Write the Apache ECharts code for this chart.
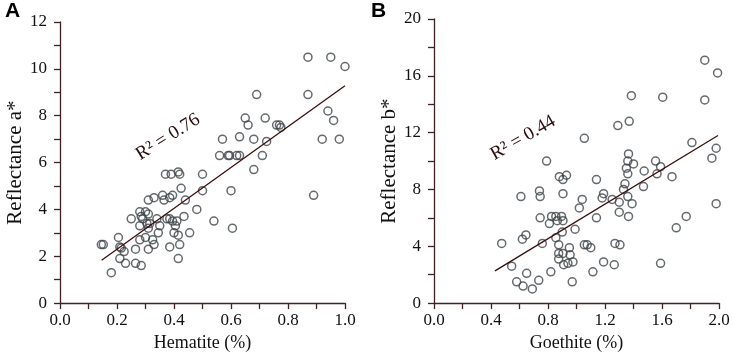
<!DOCTYPE html>
<html>
<head>
<meta charset="utf-8">
<script src="https://cdn.jsdelivr.net/npm/echarts@6/dist/echarts.min.js"></script>
<style>
  html, body { margin: 0; padding: 0; background: #fff; }
  #main { width: 733px; height: 357px; }
</style>
</head>
<body>
<div id="main"></div>
<script>
// panel A: hematite (%) vs reflectance a*
const hematite = [0.87, 0.95, 1.00, 0.69, 0.87, 0.94, 0.96, 0.65, 0.72, 0.66, 0.76, 0.77, 0.775,
  0.57, 0.63, 0.68, 0.725, 0.92, 0.98, 0.56, 0.59, 0.595, 0.62, 0.63, 0.71, 0.68,
  0.37, 0.39, 0.415, 0.42, 0.50, 0.425, 0.50, 0.60, 0.89,
  0.31, 0.33, 0.36, 0.365, 0.385, 0.395, 0.44, 0.28, 0.30, 0.48,
  0.25, 0.285, 0.29, 0.31, 0.34, 0.375, 0.385, 0.395, 0.41, 0.435, 0.54,
  0.28, 0.305, 0.315, 0.31, 0.35, 0.405, 0.605,
  0.205, 0.28, 0.30, 0.325, 0.345, 0.40, 0.415, 0.455,
  0.145, 0.152, 0.21, 0.215, 0.265, 0.31, 0.33, 0.385, 0.42, 0.225,
  0.21, 0.23, 0.265, 0.285, 0.415, 0.18];
const reflA = [10.5, 10.5, 10.1, 8.9, 8.9, 8.2, 7.8, 7.9, 7.9, 7.6, 7.6, 7.6, 7.5,
  7.0, 7.1, 7.0, 6.9, 7.0, 7.0, 6.3, 6.3, 6.3, 6.3, 6.3, 6.3, 5.7,
  5.5, 5.5, 5.6, 5.5, 5.5, 4.9, 4.8, 4.8, 4.6,
  4.4, 4.5, 4.6, 4.4, 4.5, 4.6, 4.4, 3.9, 3.9, 4.0,
  3.6, 3.7, 3.6, 3.8, 3.6, 3.6, 3.6, 3.5, 3.5, 3.7, 3.5,
  3.3, 3.4, 3.4, 3.2, 3.3, 3.3, 3.2,
  2.8, 2.7, 2.8, 2.7, 3.0, 3.0, 2.9, 3.0,
  2.5, 2.5, 2.4, 2.35, 2.3, 2.3, 2.5, 2.4, 2.5, 2.2,
  1.9, 1.7, 1.7, 1.6, 1.9, 1.3];
const fitA = [[0.146, 1.83], [1.0, 9.28]];

// panel B: goethite (%) vs reflectance b*
const goethite = [1.90, 1.99, 1.385, 1.605, 1.90, 1.29, 1.37, 1.055, 1.81, 1.98, 1.95, 1.365,
  0.79, 1.36, 1.40, 1.555, 1.59, 1.35, 1.36, 1.475, 1.565, 0.88, 0.93, 0.905, 1.14, 1.67,
  1.34, 1.47, 0.74, 1.33, 0.61, 0.745, 0.905, 1.19, 1.18, 1.04, 1.25, 1.36, 1.30, 1.39, 1.98,
  1.02, 1.30, 1.365, 1.77, 0.745, 0.825, 0.855, 0.895, 0.81, 0.865, 0.905, 1.14, 0.99, 1.70,
  0.90, 0.645, 0.62, 0.855, 0.475, 0.76, 0.875, 1.055, 1.075, 1.10, 1.27, 1.305, 0.95,
  0.875, 0.905, 0.955, 0.875, 0.91, 0.94, 0.975, 1.19, 1.265, 1.59, 0.545, 0.82, 1.115,
  0.65, 0.58, 0.625, 0.69, 0.735, 0.97];
const reflB = [17.1, 16.2, 14.6, 14.5, 14.3, 12.5, 12.8, 11.6, 11.3, 10.9, 10.2, 10.5,
  10.0, 10.0, 9.8, 10.0, 9.6, 9.5, 9.1, 9.3, 9.1, 8.9, 9.0, 8.7, 8.7, 8.9,
  8.4, 8.2, 7.9, 8.0, 7.5, 7.5, 7.7, 7.7, 7.4, 7.3, 7.3, 7.5, 7.1, 7.0, 7.0,
  6.7, 6.4, 6.1, 6.1, 6.0, 6.1, 6.1, 6.1, 5.6, 5.8, 5.8, 6.0, 5.2, 5.3,
  5.0, 4.8, 4.5, 4.6, 4.2, 4.2, 4.1, 4.1, 4.1, 3.9, 4.2, 4.1, 3.9,
  3.5, 3.5, 3.4, 3.1, 2.7, 2.8, 2.9, 2.9, 2.7, 2.8, 2.6, 2.2, 2.2,
  2.1, 1.5, 1.2, 1.0, 1.6, 1.5];
const fitB = [[0.428, 2.27], [1.993, 11.8]];

const axisColor = '#3f2323';
const serif = '"Liberation Serif", "Times New Roman", serif';

const chart = echarts.init(document.getElementById('main'));

function zip(xs, ys) {
  return xs.map((x, i) => [x, ys[i]]);
}

function xAxisOf(grid, max, step, name) {
  return {
    gridIndex: grid, type: 'value', min: 0, max: max, interval: step,
    name: name, nameLocation: 'middle', nameGap: 30,
    nameTextStyle: { fontFamily: serif, fontSize: 18, color: '#111' },
    axisLine: { onZero: false, lineStyle: { color: axisColor, width: 1.3 } },
    axisTick: { show: true, length: 6, lineStyle: { color: axisColor, width: 1.3 } },
    minorTick: { show: true, splitNumber: 2, length: 6, lineStyle: { color: axisColor, width: 1.3 } },
    axisLabel: { fontFamily: serif, fontSize: 17, color: '#111', margin: 9,
      formatter: v => v.toFixed(1) },
    splitLine: { show: false }
  };
}

function yAxisOf(grid, max, step, name) {
  return {
    gridIndex: grid, type: 'value', min: 0, max: max, interval: step,
    name: name, nameLocation: 'middle', nameGap: 32,
    nameTextStyle: { fontFamily: serif, fontSize: 21, color: '#111' },
    axisLine: { show: true, onZero: false, lineStyle: { color: axisColor, width: 1.3 } },
    axisTick: { show: true, length: 6, lineStyle: { color: axisColor, width: 1.3 } },
    minorTick: { show: true, splitNumber: 2, length: 6, lineStyle: { color: axisColor, width: 1.3 } },
    axisLabel: { fontFamily: serif, fontSize: 17, color: '#111', margin: 13 },
    splitLine: { show: false }
  };
}

const dots = {
  type: 'scatter', symbol: 'circle', symbolSize: 8,
  itemStyle: { color: 'rgba(255,255,255,0)', borderColor: '#3e4549', borderWidth: 1.5 }
};
const fitLine = {
  type: 'line', symbol: 'none', silent: true,
  lineStyle: { color: '#3a0d0d', width: 1.3 }
};

const option = {
  animation: false,
  backgroundColor: '#fff',
  grid: [
    { left: 60, top: 22, width: 285, height: 284 },
    { left: 434, top: 19, width: 285, height: 285 }
  ],
  xAxis: [
    xAxisOf(0, 1, 0.2, 'Hematite (%)'),
    xAxisOf(1, 2, 0.4, 'Goethite (%)')
  ],
  yAxis: [
    yAxisOf(0, 12, 2, 'Reflectance a*'),
    yAxisOf(1, 20, 4, 'Reflectance b*')
  ],
  series: [
    Object.assign({}, dots, { xAxisIndex: 0, yAxisIndex: 0, data: zip(hematite, reflA) }),
    Object.assign({}, fitLine, { xAxisIndex: 0, yAxisIndex: 0, data: fitA }),
    Object.assign({}, dots, { xAxisIndex: 1, yAxisIndex: 1, data: zip(goethite, reflB) }),
    Object.assign({}, fitLine, { xAxisIndex: 1, yAxisIndex: 1, data: fitB })
  ],
  graphic: [
    { type: 'text', left: 5, top: 1,
      style: { text: 'A', font: 'bold 21px "Liberation Sans", Arial, sans-serif', fill: '#000' } },
    { type: 'text', left: 371, top: 1,
      style: { text: 'B', font: 'bold 21px "Liberation Sans", Arial, sans-serif', fill: '#000' } },
    { type: 'text', x: 168, y: 137, rotation: 32 * Math.PI / 180,
      style: { text: 'R² = 0.76', font: '19px ' + serif, fill: '#2a0a0a',
        align: 'center', verticalAlign: 'middle' } },
    { type: 'text', x: 523, y: 138, rotation: 30 * Math.PI / 180,
      style: { text: 'R² = 0.44', font: '19px ' + serif, fill: '#2a0a0a',
        align: 'center', verticalAlign: 'middle' } }
  ]
};

chart.setOption(option);
</script>
</body>
</html>
